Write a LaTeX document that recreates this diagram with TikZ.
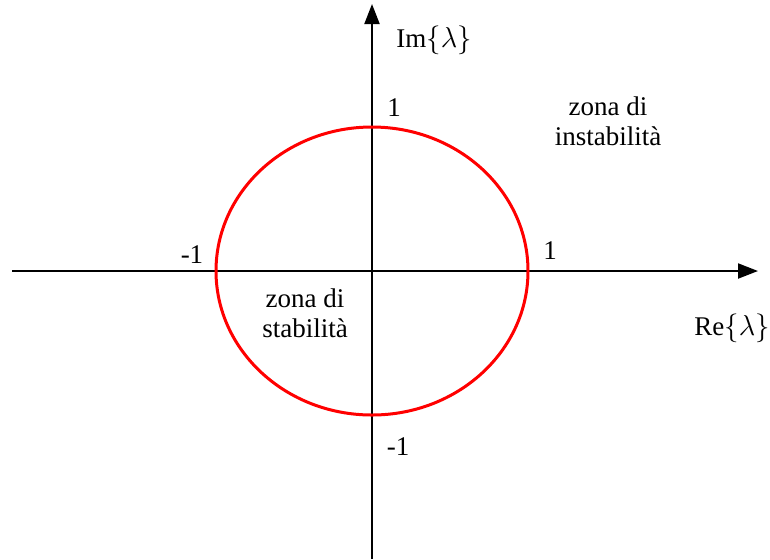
\documentclass[tikz,border=0pt]{standalone}
\usepackage{fontspec}
\setmainfont{Liberation Serif}
\usetikzlibrary{arrows.meta}

\begin{document}
\begin{tikzpicture}[x=0.5pt, y=-0.5pt, every node/.style={font=\fontsize{13.5}{15}\selectfont, inner sep=0pt}, axis/.style={line width=1pt,-{Triangle[length=10pt,width=7.5pt]}}, zona/.style={align=center}, >={Stealth}]
\useasboundingbox (0,0) rectangle (770,559);
\coordinate (O) at (372,271);
\coordinate (xs) at (12,271);
\coordinate (xe) at (758,271);
\coordinate (ys) at (372,559);
\coordinate (ye) at (372,4);
\draw[axis] (xs)--(xe);
\draw[axis] (ys)--(ye);
\draw[red, line width=1.5pt] (O) ellipse [x radius=156, y radius=144];
\node (im) at (434,40) {Im$\bigl\{\lambda\bigr\}$};
\node (re) at (732,328) {Re$\bigl\{\lambda\bigr\}$};
\node (ytop) at (394,108) {1};
\node (ybot) at (398,447) {-1};
\node (xleft) at (192,255) {-1};
\node (xright) at (550,251) {1};
\node[zona] (inst) at (608,121) {zona di\\instabilità};
\node[zona] (stab) at (305,313) {zona di\\stabilità};
\end{tikzpicture}
\end{document}
